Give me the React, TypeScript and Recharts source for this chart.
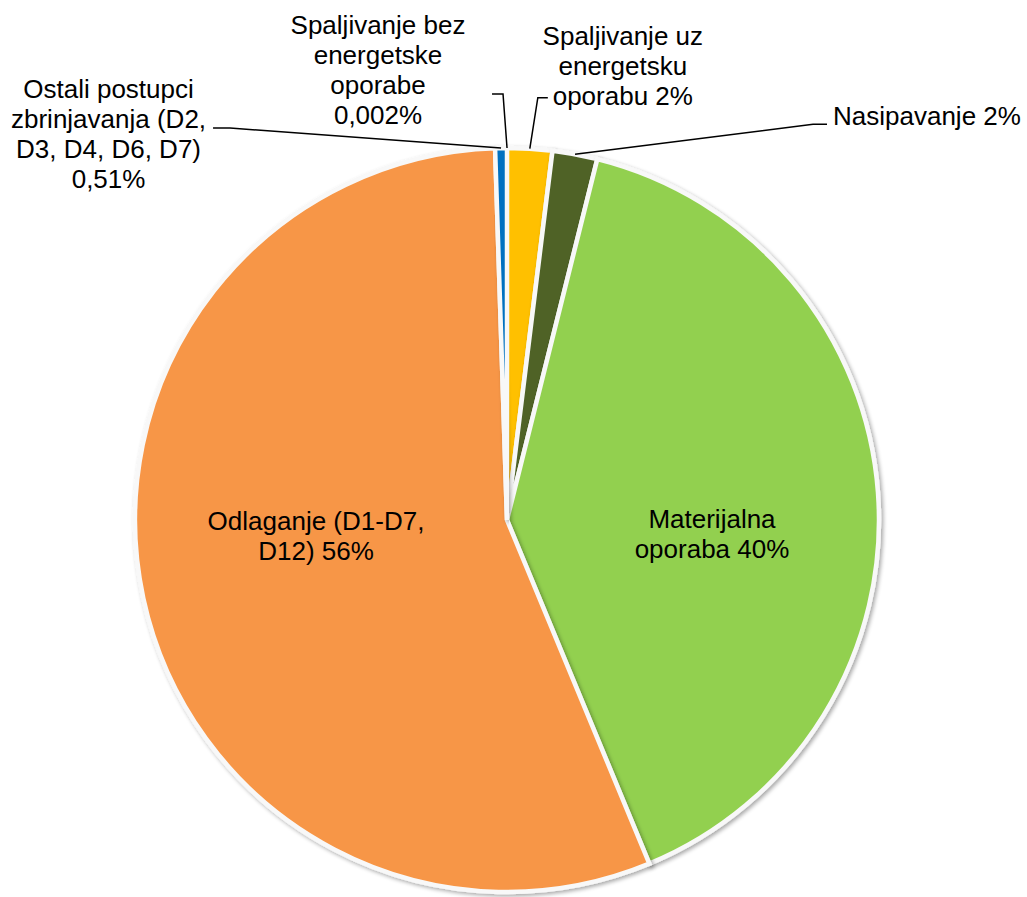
import React from 'react';
import { PieChart, Pie, Cell } from 'recharts';

// ---- data ----
const categories = [
  'Spaljivanje bez energetske oporabe',
  'Spaljivanje uz energetsku oporabu',
  'Nasipavanje',
  'Materijalna oporaba',
  'Odlaganje (D1-D7, D12)',
  'Ostali postupci zbrinjavanja (D2, D3, D4, D6, D7)',
];
const shares = [0.002, 1.95, 1.95, 39.85, 55.74, 0.51];
const labelLines = [
  ['Spaljivanje bez', 'energetske', 'oporabe', '0,002%'],
  ['Spaljivanje uz', 'energetsku', 'oporabu 2%'],
  ['Nasipavanje 2%'],
  ['Materijalna', 'oporaba 40%'],
  ['Odlaganje (D1-D7,', 'D12) 56%'],
  ['Ostali postupci', 'zbrinjavanja (D2,', 'D3, D4, D6, D7)', '0,51%'],
];
const colors = ['#C0504D', '#FFC000', '#4F6228', '#92D050', '#F79646', '#0070C0'];

const tableData = categories.map((name, i) => ({ name, value: shares[i] }));

// ---- label layout (offsets) ----
type Lay =
  | { kind: 'inside'; dx: number; dy: number }
  | { kind: 'outside'; ex: number; ey: number; hx: number; tx: number; ty: number; anchor: 'start' | 'middle' | 'end' };

const labelLayout: Lay[] = [
  { kind: 'outside', ex: -4, ey: -54, hx: -11, tx: -129, ty: -114, anchor: 'middle' },
  { kind: 'outside', ex: 8, ey: -51, hx: 10, tx: 93, ty: -104, anchor: 'middle' },
  { kind: 'outside', ex: 238, ey: -30, hx: 14, tx: 258, ty: -29, anchor: 'start' },
  { kind: 'inside', dx: 205, dy: 8 },
  { kind: 'inside', dx: -191, dy: 10 },
  { kind: 'outside', ex: -271, ey: -20, hx: -17, tx: -392.5, ty: -50, anchor: 'middle' },
];

const FONT = '"Liberation Sans", Arial, sans-serif';
const FS = 26;
const LH = 30;

const renderLabel = (props: any) => {
  const { cx, cy, midAngle, outerRadius, index } = props;
  const lay = labelLayout[index];
  const lines = labelLines[index];
  if (!lay) return null;
  if (lay.kind === 'inside') {
    const x = cx + lay.dx;
    const y0 = cy + lay.dy;
    return (
      <text x={x} y={y0} textAnchor="middle" fontFamily={FONT} fontSize={FS} fill="#000">
        {lines.map((l, i) => (
          <tspan key={i} x={x} y={y0 + i * LH}>
            {l}
          </tspan>
        ))}
      </text>
    );
  }
  const rad = Math.PI / 180;
  const ax = cx + outerRadius * Math.cos(-midAngle * rad);
  const ay = cy + outerRadius * Math.sin(-midAngle * rad);
  const ex = ax + lay.ex;
  const ey = ay + lay.ey;
  const hx = ex + lay.hx;
  const tx = ax + lay.tx;
  const ty = ay + lay.ty;
  return (
    <g>
      <path d={`M${ax},${ay}L${ex},${ey}L${hx},${ey}`} stroke="#000" strokeWidth={1.5} fill="none" />
      <text x={tx} y={ty} textAnchor={lay.anchor} fontFamily={FONT} fontSize={FS} fill="#000">
        {lines.map((l, i) => (
          <tspan key={i} x={tx} y={ty + i * LH}>
            {l}
          </tspan>
        ))}
      </text>
    </g>
  );
};

export default function App() {
  return (
    <div style={{ position: 'absolute', left: 0, top: 0, width: 1027, height: 897, background: '#fff' }}>
      <PieChart width={1027} height={897} margin={{ top: 0, right: 0, bottom: 0, left: 0 }}>
        <defs>
          <filter id="pieShadow" x="-10%" y="-10%" width="120%" height="120%">
            <feGaussianBlur in="SourceAlpha" stdDeviation="2" />
            <feOffset dx="1.5" dy="2" result="ob" />
            <feComponentTransfer>
              <feFuncA type="linear" slope="0.35" />
            </feComponentTransfer>
            <feMerge>
              <feMergeNode />
              <feMergeNode in="SourceGraphic" />
            </feMerge>
          </filter>
        </defs>
        <Pie
          data={tableData}
          dataKey="value"
          nameKey="name"
          cx={507}
          cy={520}
          outerRadius={372}
          startAngle={90}
          endAngle={-270}
          stroke="#F8F8F8"
          strokeWidth={4.5}
          isAnimationActive={false}
          label={renderLabel}
          labelLine={false}
          style={{ filter: 'url(#pieShadow)' }}
        >
          {tableData.map((d, i) => (
            <Cell key={d.name} fill={colors[i]} />
          ))}
        </Pie>
      </PieChart>
    </div>
  );
}
